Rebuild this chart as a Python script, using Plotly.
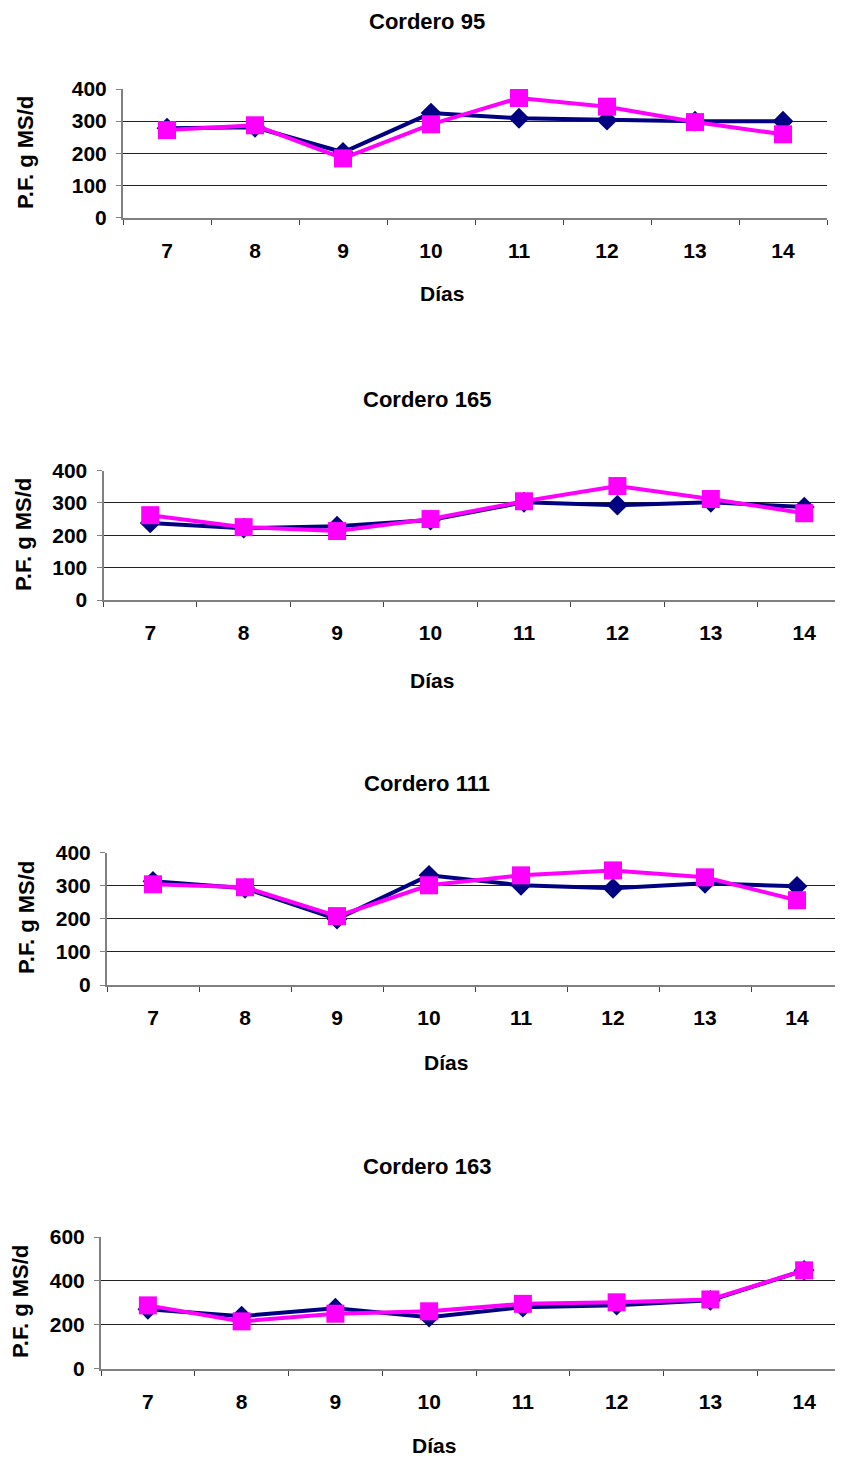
import plotly.graph_objects as go

# page body has an 8px margin; positions below are page pixels, shifted by OFF
OFF = 8
W, H = 843, 1458

days = ["7", "8", "9", "10", "11", "12", "13", "14"]
titles = ["Cordero 95", "Cordero 165", "Cordero 111", "Cordero 163"]
x_title = "Días"
y_title = "P.F. g MS/d"

navy_95 = [278, 281, 203, 325, 309, 303, 300, 300]
pink_95 = [272, 287, 184, 290, 372, 345, 297, 259]

navy_165 = [238, 222, 228, 247, 302, 293, 302, 287]
pink_165 = [262, 225, 213, 250, 305, 352, 312, 268]

navy_111 = [313, 292, 199, 331, 301, 292, 307, 298]
pink_111 = [304, 295, 208, 301, 331, 346, 325, 256]

navy_163 = [270, 239, 275, 234, 280, 289, 311, 448]
pink_163 = [288, 215, 250, 261, 295, 302, 315, 448]

navy_series = [navy_95, navy_165, navy_111, navy_163]
pink_series = [pink_95, pink_165, pink_111, pink_163]

y_ticks = [[0, 100, 200, 300, 400]] * 3 + [[0, 200, 400, 600]]
y_grid = [[100, 200, 300]] * 3 + [[200, 400]]

# layout in page pixels (reference coordinates)
panels = [
    dict(top=89, bottom=217.5, left=123, right=827, xmax=7.5, title_y=21, xt=(442, 293), yt=(26, 153)),
    dict(top=470.5, bottom=600, left=103.5, right=851, xmax=7.5, title_y=400, xt=(432, 680), yt=(24, 535)),
    dict(top=852.5, bottom=985, left=107, right=843, xmax=7.5, title_y=783, xt=(446, 1062), yt=(26, 918)),
    dict(top=1237, bottom=1368.5, left=101, right=851, xmax=7.5, title_y=1166, xt=(434, 1445), yt=(20, 1302)),
]

FONT = "Liberation Sans, Arial, sans-serif"
FS_TICK = 21
FS_TITLE = 22
FS_AX = 21
NAVY = "#000080"
PINK = "#FF00FF"

def py(p):
    return 1 - (p - OFF) / H

def px(p):
    return min(1.0, (p - OFF) / W)

fig = go.Figure()
layout = dict(
    width=W, height=H, margin=dict(l=0, r=0, t=0, b=0, pad=0, autoexpand=False),
    paper_bgcolor="white", plot_bgcolor="white",
    showlegend=False,
    font=dict(family=FONT, size=FS_TICK, color="black"),
)
annotations = []

for i, p in enumerate(panels):
    n = i + 1
    sfx = "" if n == 1 else str(n)
    xa = "x" + sfx
    ya = "y" + sfx
    ymax = y_ticks[i][-1]
    layout["xaxis" + sfx] = dict(
        domain=[px(p["left"]), px(p["right"])],
        anchor=ya, type="category", range=[-0.5, p["xmax"]],
        showline=True, linecolor="#808080", linewidth=2,
        ticks="outside", tickson="boundaries", ticklen=5, tickcolor="#404040", tickwidth=1,
        showgrid=False, zeroline=False, automargin=False,
        tickfont=dict(family=FONT, size=FS_TICK, color="black", weight="bold"),
        ticklabelstandoff=13,
    )
    layout["yaxis" + sfx] = dict(
        domain=[py(p["bottom"]), py(p["top"])],
        anchor=xa, range=[0, ymax], tickmode="array", tickvals=y_ticks[i],
        showline=True, linecolor="#808080", linewidth=2,
        ticks="outside", ticklen=5, tickcolor="#808080",
        showgrid=False, zeroline=False, automargin=False,
        minor=dict(tickmode="array", tickvals=y_grid[i], ticks="inside", ticklen=0,
                   showgrid=True, gridcolor="#222222", gridwidth=1),
        tickfont=dict(family=FONT, size=FS_TICK, color="black", weight="bold"),
        ticklabelstandoff=5,
    )
    fig.add_trace(go.Scatter(
        x=days, y=navy_series[i], xaxis=xa, yaxis=ya, mode="lines+markers",
        line=dict(color=NAVY, width=4),
        marker=dict(symbol="diamond", size=16, color=NAVY),
        cliponaxis=False,
    ))
    fig.add_trace(go.Scatter(
        x=days, y=pink_series[i], xaxis=xa, yaxis=ya, mode="lines+markers",
        line=dict(color=PINK, width=4),
        marker=dict(symbol="square", size=18, color=PINK),
        cliponaxis=False,
    ))
    annotations.append(dict(
        text=titles[i], x=px(427), y=py(p["title_y"]), xref="paper", yref="paper",
        xanchor="center", yanchor="middle", showarrow=False,
        font=dict(family=FONT, size=FS_TITLE, color="black", weight="bold"),
    ))
    annotations.append(dict(
        text=x_title, x=px(p["xt"][0]), y=py(p["xt"][1]), xref="paper", yref="paper",
        xanchor="center", yanchor="middle", showarrow=False,
        font=dict(family=FONT, size=FS_AX, color="black", weight="bold"),
    ))
    annotations.append(dict(
        text=y_title, x=px(p["yt"][0]), y=py(p["yt"][1]), xref="paper", yref="paper",
        xanchor="center", yanchor="middle", showarrow=False, textangle=-90,
        font=dict(family=FONT, size=FS_TITLE, color="black", weight="bold"),
    ))

layout["annotations"] = annotations
fig.update_layout(**layout)
fig.write_html("out.html")
